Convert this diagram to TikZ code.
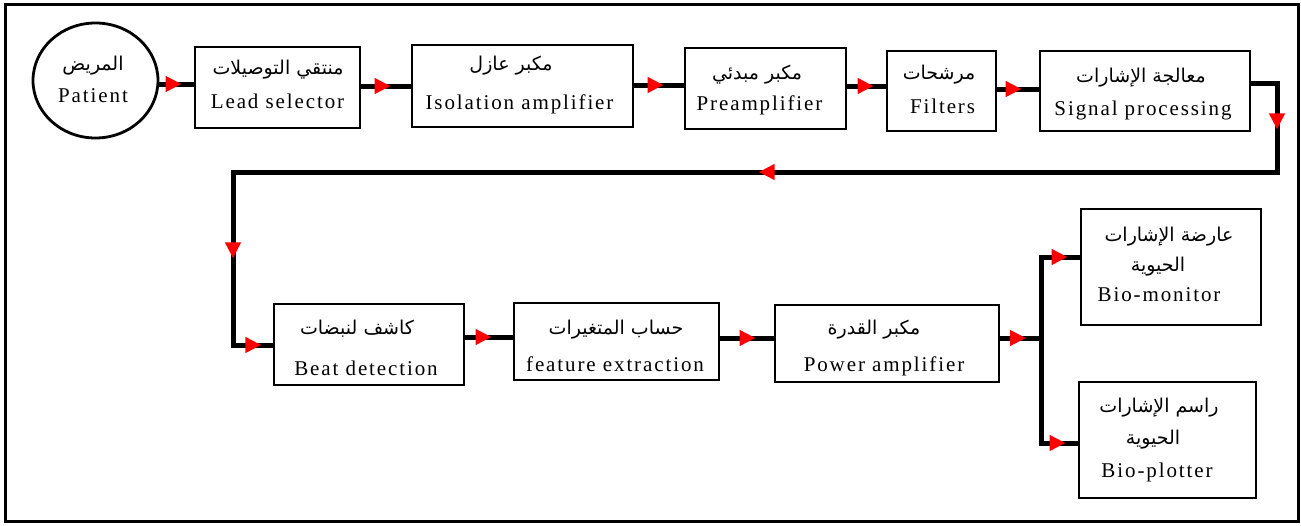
\documentclass[tikz,border=0pt]{standalone}
\usepackage{fontspec}
\setmainfont{Liberation Serif}
\newfontfamily\enfont[LetterSpace=9]{Liberation Serif}
\newfontfamily\arfont[Script=Arabic]{DejaVu Sans}
\TeXXeTstate=1
\usetikzlibrary{arrows.meta,decorations.markings,shapes.geometric}
\newcommand\redtip{\arrow[red]{Triangle[length=16pt,width=15pt]}}
\tikzset{
  box/.style={draw, line width=2.8pt, inner sep=0pt},
  entxt/.style={font=\enfont\fontsize{21}{24}\selectfont, inner sep=0pt, anchor=base},
  artxt/.style={font=\arfont\fontsize{19}{22}\selectfont, inner sep=0pt},
  conn/.style={line width=5pt},
  arrowat/.style={postaction={decorate}, decoration={markings, mark=at position #1 with {\redtip}}},
}
\begin{document}
\begin{tikzpicture}[x=1pt,y=-1pt]
\useasboundingbox (0,0) rectangle (1301,525);
\draw[line width=3pt] (5,4) rectangle (1298,521);
% nodes
\node[box, ellipse, minimum width=125pt, minimum height=115pt] (pat) at (95.5,80.5) {};
\node[box, minimum width=165pt, minimum height=81pt] (lead) at (277.5,87.5) {};
\node[box, minimum width=221pt, minimum height=82pt] (iso) at (522.5,86) {};
\node[box, minimum width=161pt, minimum height=81pt] (pre) at (765.5,88.5) {};
\node[box, minimum width=109pt, minimum height=80pt] (fil) at (941.5,91) {};
\node[box, minimum width=210pt, minimum height=80pt] (sp) at (1145,91) {};
\node[box, minimum width=190pt, minimum height=81pt] (beat) at (369,344.5) {};
\node[box, minimum width=205pt, minimum height=77pt] (feat) at (616.5,341.5) {};
\node[box, minimum width=224pt, minimum height=77pt] (pow) at (887,343.5) {};
\node[box, minimum width=180pt, minimum height=116pt] (mon) at (1171,267) {};
\node[box, minimum width=177pt, minimum height=116pt] (plot) at (1167.5,440) {};
% texts
\node[artxt] (apat) at (93,66) {\beginR المريض\endR};
\node[entxt] (epat) at (93,102) {Patient};
\node[artxt] (alead) at (278,70) {\beginR منتقي التوصيلات\endR};
\node[entxt] (elead) at (277.5,108) {Lead selector};
\node[artxt] (aiso) at (511,66) {\beginR مكبر عازل\endR};
\node[entxt] (eiso) at (519.5,109) {Isolation amplifier};
\node[artxt] (apre) at (757,75) {\beginR مكبر مبدئي\endR};
\node[entxt] (epre) at (759.5,110) {Preamplifier};
\node[artxt] (afil) at (939,75) {\beginR مرشحات\endR};
\node[entxt] (efil) at (942.5,113) {Filters};
\node[artxt] (asp) at (1141,78) {\beginR معالجة الإشارات\endR};
\node[entxt] (esp) at (1143,115) {Signal processing};
\node[artxt] (abeat) at (357,329) {\beginR كاشف لنبضات\endR};
\node[entxt] (ebeat) at (366,375) {Beat detection};
\node[artxt] (afeat) at (616,330) {\beginR حساب المتغيرات\endR};
\node[entxt] (efeat) at (615,371) {feature extraction};
\node[artxt] (apow) at (874,330) {\beginR مكبر القدرة\endR};
\node[entxt] (epow) at (884,371) {Power amplifier};
\node[artxt] (amon) at (1169,237) {\beginR عارضة الإشارات\endR};
\node[artxt] (amonb) at (1158,267) {\beginR الحيوية\endR};
\node[entxt] (emon) at (1159,301) {Bio-monitor};
\node[artxt] (aplot) at (1159,408) {\beginR راسم الإشارات\endR};
\node[artxt] (aplotb) at (1153,440) {\beginR الحيوية\endR};
\node[entxt] (eplot) at (1157,477) {Bio-plotter};
% coordinates
\coordinate (c1) at (1277,83);
\coordinate (c2) at (1277,172);
\coordinate (c3) at (233,172);
\coordinate (c4) at (233,345);
\coordinate (j) at (1041,338);
% connectors
\draw[conn, arrowat=-12pt] (pat.east |- 0,84) -- (lead.west |- 0,84);
\draw[conn, arrowat=-20pt] (lead.east |- 0,86) -- (iso.west |- 0,86);
\draw[conn, arrowat=-20pt] (iso.east |- 0,85) -- (pre.west |- 0,85);
\draw[conn, arrowat=-12pt] (pre.east |- 0,86) -- (fil.west |- 0,86);
\draw[conn, arrowat=-17pt] (fil.east |- 0,89) -- (sp.west |- 0,89);
\draw[conn, postaction={decorate}, decoration={markings,
   mark=at position 72pt with {\redtip},
   mark=at position 633pt with {\redtip},
   mark=at position 1245pt with {\redtip},
   mark=at position 1360pt with {\redtip}}]
  (sp.east |- c1) -- (c1) -- (c2) -- (c3) -- (c4) -- (beat.west |- c4);
\draw[conn, arrowat=-21pt] (beat.east |- 0,337) -- (feat.west |- 0,337);
\draw[conn, arrowat=-18pt] (feat.east |- 0,338) -- (pow.west |- 0,338);
\draw[conn, arrowat=-15pt] (pow.east |- j) -- (j);
\draw[conn, arrowat=-12pt] (j) |- (mon.west |- 0,257);
\draw[conn, arrowat=-12pt] (j) |- (plot.west |- 0,443);
\end{tikzpicture}
\end{document}
